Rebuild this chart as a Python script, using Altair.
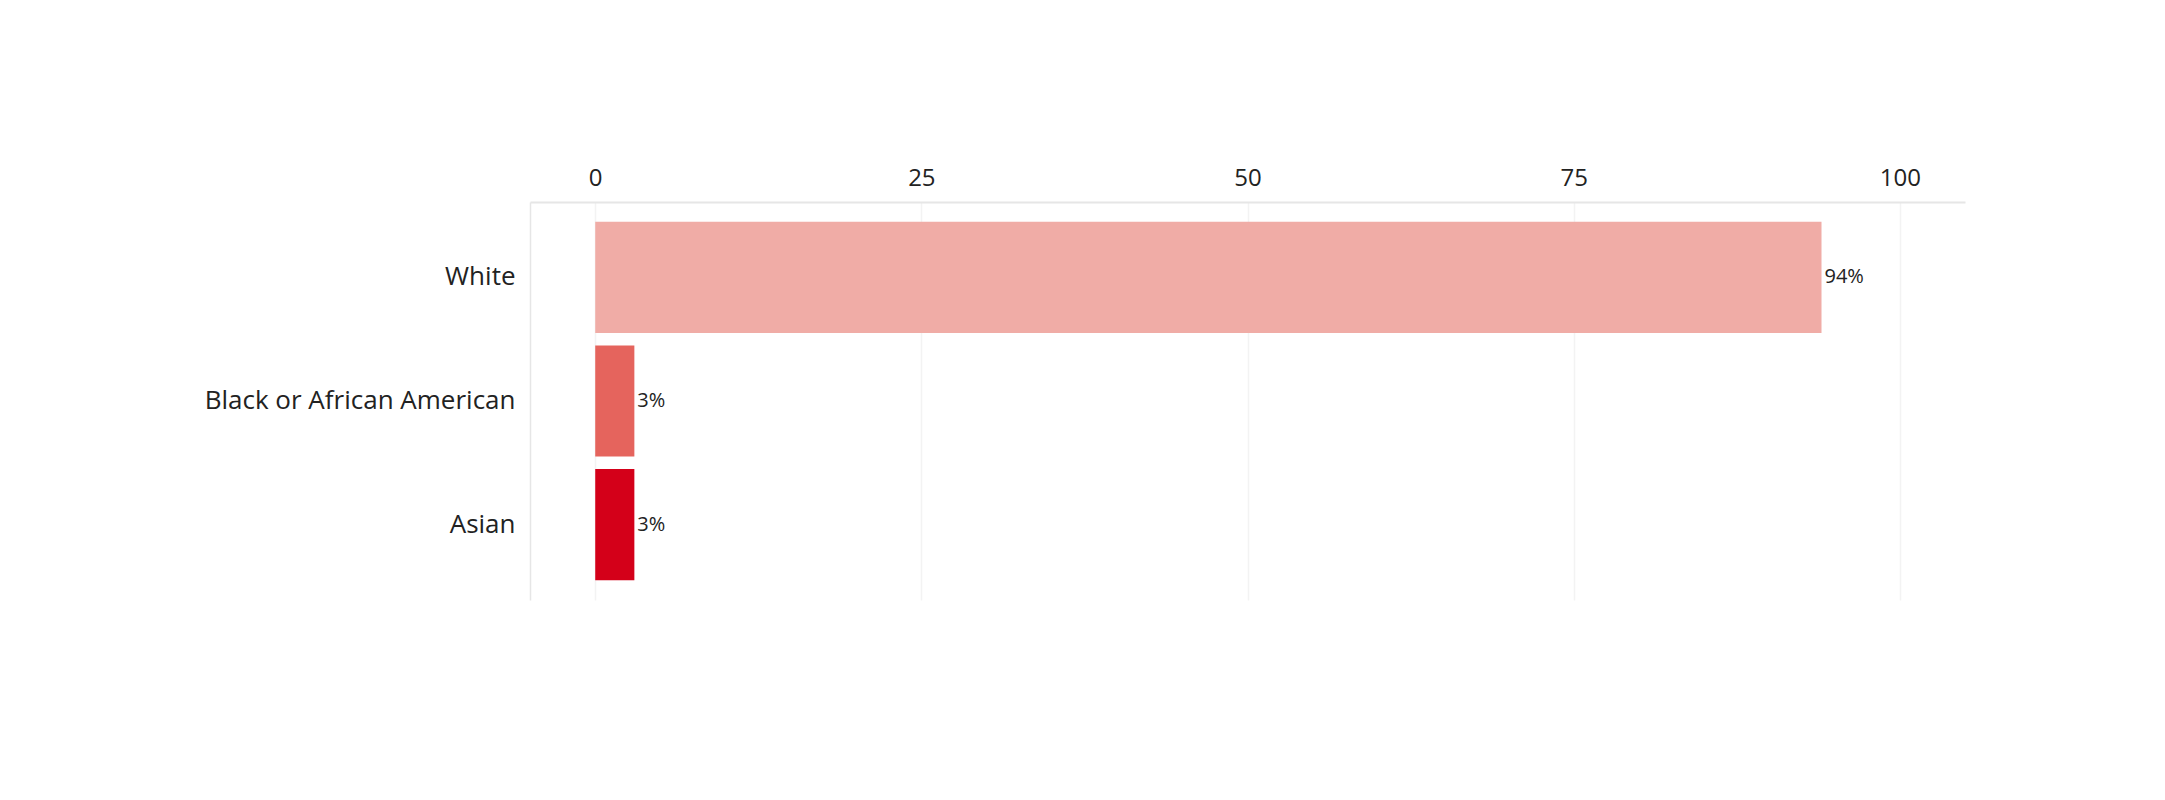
import altair as alt
import pandas as pd

categories = ["White", "Black or African American", "Asian"]
values = [94, 3, 3]
labels = ["94%", "3%", "3%"]
colors = ["#f0aca6", "#e5645d", "#d40019"]

data = pd.DataFrame({"race": categories, "pct": values, "label": labels})

font = "Open Sans"

base = alt.Chart(data).encode(
    y=alt.Y("race:N", sort=categories, title=None,
            scale=alt.Scale(paddingInner=0.1, paddingOuter=0.16),
            axis=alt.Axis(labelFontSize=26, labelFont=font, labelColor="#222222",
                          labelPadding=15, labelLimit=0, ticks=False, domain=True,
                          domainColor="#e6e6e6", domainWidth=1.5, grid=False)),
)

bars = base.mark_bar().encode(
    x=alt.X("pct:Q", title=None,
            scale=alt.Scale(domain=[-5, 105], nice=False, zero=False),
            axis=alt.Axis(orient="top", values=[0, 25, 50, 75, 100], labelFontSize=24,
                          labelFont=font, labelColor="#222222", labelPadding=12,
                          ticks=False, domainColor="#e6e6e6", domainWidth=2,
                          gridColor="#f3f3f3", gridWidth=1.5)),
    x2=alt.datum(0),
    color=alt.Color("race:N", sort=categories,
                    scale=alt.Scale(domain=categories, range=colors), legend=None),
)

text = base.mark_text(align="left", baseline="middle", dx=3, fontSize=20,
                      font=font, color="#222222").encode(
    x=alt.X("pct:Q"),
    text="label:N",
)

chart = (bars + text).properties(
    width=1435,
    height=398,
    autosize=alt.AutoSizeParams(type="none"),
    padding={"left": 522, "top": 194, "right": 190, "bottom": 190},
).configure_view(stroke=None)

chart.save("out.html", embed_options={"renderer": "svg", "actions": False})
